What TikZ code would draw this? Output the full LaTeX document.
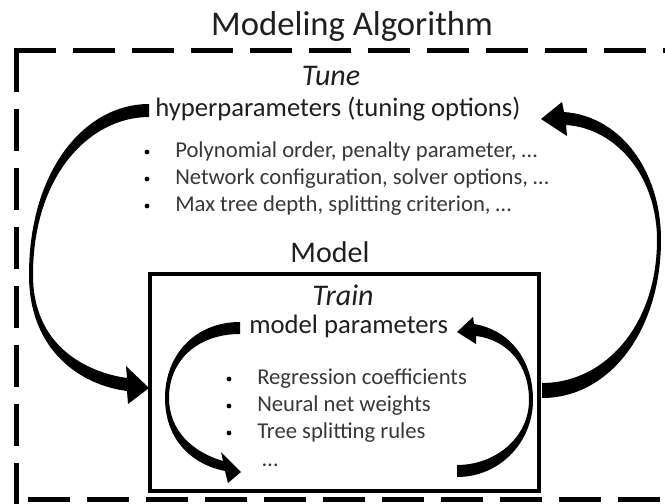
\documentclass[tikz,border=0pt]{standalone}
\usepackage{fontspec}
\setmainfont{Carlito}
\begin{document}
\begin{tikzpicture}[x=0.75pt,y=-0.75pt,
  txt/.style={inner sep=0pt, anchor=base, text=black!88},
  titlefont/.style={txt, font=\fontsize{26}{30}\selectfont},
  headit/.style={txt, font=\fontsize{22.5}{27}\selectfont\itshape},
  headrm/.style={txt, font=\fontsize{22.5}{27}\selectfont},
  sub/.style={txt, anchor=base west, font=\fontsize{20}{24}\selectfont},
  item/.style={txt, anchor=base west, text=black!78, font=\fontsize{17}{20}\selectfont},
  dot/.style={circle, fill=black, inner sep=0pt, minimum size=3.6pt},
  arr/.style={fill=black, draw=none},
  dashline/.style={line width=3.75pt, dash pattern=on 31.5pt off 12.75pt},
  boxline/.style={draw, line width=3.4pt, inner sep=0pt}]
\useasboundingbox (0,0) rectangle (665,504);
\clip (0,0) rectangle (665,504);
% dashed outer frame (Modeling Algorithm)
\coordinate (tl) at (13.5,50);
\coordinate (tr) at (720,50);
\coordinate (lt) at (16,50);
\coordinate (lb) at (16,520);
\coordinate (bl) at (28,499);
\coordinate (br) at (720,499);
\draw[dashline] (tl) -- (tr);
\draw[dashline] (lt) -- (lb);
\draw[dashline] (bl) -- (br);
% texts
\node[titlefont] (title) at (352,35) {Modeling Algorithm};
\node[headit] (tune) at (331,85) {Tune};
\node[sub] (hyper) at (155,116) {hyperparameters (tuning options)};
\node[dot] (hb1) at (147,152) {};
\node[item] (ht1) at (175,157) {Polynomial order, penalty parameter, …};
\node[dot] (hb2) at (147,179) {};
\node[item] (ht2) at (175,184) {Network configuration, solver options, …};
\node[dot] (hb3) at (147,206) {};
\node[item] (ht3) at (175,211) {Max tree depth, splitting criterion, …};
\node[headrm] (model) at (330,262) {Model};
% model box
\node[boxline, minimum width=291.75pt, minimum height=162.75pt] (box) at (344.5,382.5) {};
\node[headit] (train) at (343,305) {Train};
\node[sub] (mparams) at (249,333) {model parameters};
\node[dot] (mb1) at (229,379) {};
\node[item] (mt1) at (257,384) {Regression coefficients};
\node[dot] (mb2) at (229,406) {};
\node[item] (mt2) at (257,411) {Neural net weights};
\node[dot] (mb3) at (229,433) {};
\node[item] (mt3) at (257,438) {Tree splitting rules};
\node[item] (mdots) at (262,466) {…};
% big left curved arrow (tune -> model)
\fill[arr] (149,104) .. controls (85,104) and (29,170) .. (29,275)
  .. controls (29,350) and (80,385) .. (127,391)
  -- (128,404) -- (149,388) -- (126,366) -- (127,378)
  .. controls (85,372) and (33,345) .. (33,275)
  .. controls (33,175) and (90,117) .. (149,117) -- cycle;
% big right curved arrow (model -> tune)
\fill[arr] (541,119) -- (562,102) -- (564,112)
  .. controls (620,116) and (661,170) .. (661,240)
  .. controls (661,330) and (610,398) .. (542,398)
  -- (542,383)
  .. controls (605,383) and (657,325) .. (657,240)
  .. controls (657,175) and (615,128) .. (566,125)
  -- (567,136) -- cycle;
% inner left curved arrow
\fill[arr] (240,322) .. controls (195,322) and (165,355) .. (165,398)
  .. controls (165,438) and (190,464) .. (225,471)
  -- (228,483) -- (241,472) -- (221,452) -- (223,461)
  .. controls (192,452) and (169,430) .. (169,398)
  .. controls (169,360) and (198,334) .. (240,334) -- cycle;
% inner right curved arrow
\fill[arr] (457,332) -- (473,317) -- (474,324)
  .. controls (510,330) and (533,360) .. (533,400)
  .. controls (533,442) and (500,477) .. (457,477)
  -- (457,465)
  .. controls (495,465) and (529,438) .. (529,400)
  .. controls (529,365) and (508,340) .. (476,336)
  -- (476,344) -- cycle;
\end{tikzpicture}
\end{document}
